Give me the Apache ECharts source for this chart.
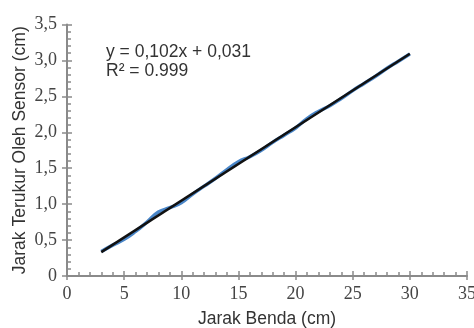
<!DOCTYPE html>
<html><head><meta charset="utf-8">
<script src="https://cdn.jsdelivr.net/npm/echarts@6/dist/echarts.min.js"></script>
<style>html,body{margin:0;padding:0;background:#fff}#c{width:474px;height:328px}</style>
</head><body><div id="c"></div>
<script>
const jarakBenda = [3,4,5,6,7,8,9,10,11,12,13,14,15,16,17,18,19,20,21,22,23,24,25,26,27,28,29,30];
const jarakTerukur = [0.34,0.43,0.51,0.62,0.75,0.89,0.95,1.02,1.14,1.25,1.36,1.48,1.59,1.66,1.75,1.86,1.96,2.06,2.19,2.29,2.37,2.47,2.58,2.68,2.78,2.89,2.99,3.09];
const equationText = ['y = 0,102x + 0,031', 'R² = 0.999'];
const xName = 'Jarak Benda (cm)';
const yName = 'Jarak Terukur Oleh Sensor (cm)';

const n = jarakBenda.length;
let sx=0, sy=0, sxx=0, sxy=0;
for (let i=0;i<n;i++){sx+=jarakBenda[i];sy+=jarakTerukur[i];sxx+=jarakBenda[i]*jarakBenda[i];sxy+=jarakBenda[i]*jarakTerukur[i];}
const slope = (n*sxy - sx*sy)/(n*sxx - sx*sx);
const icpt = (sy - slope*sx)/n;
const xs = [jarakBenda[0], jarakBenda[n-1]];
const trend = xs.map(x => [x, slope*x + icpt]);
const dataPts = jarakBenda.map((x,i)=>[x, jarakTerukur[i]]);

const axisColor = '#8a8a8a';
const labelStyle = {color:'#444', fontFamily:'Liberation Serif', fontSize:18};
const chart = echarts.init(document.getElementById('c'));
chart.setOption({
  animation:false,
  grid:{left:67, right:7, top:24.5, bottom:52, containLabel:false, outerBoundsMode:'none'},
  xAxis:[{
    type:'value', min:0, max:35, interval:5,
    axisLine:{show:true, onZero:false, lineStyle:{color:axisColor, width:2}},
    axisTick:{show:true, inside:true, length:5, lineStyle:{color:axisColor, width:1.5}},
    minorTick:{show:true, splitNumber:5, length:4, lineStyle:{color:axisColor, width:1.5}},
    splitLine:{show:false},
    axisLabel:Object.assign({margin:9}, labelStyle),
    name:xName, nameLocation:'middle', nameGap:34,
    nameTextStyle:{color:'#333', fontFamily:'Liberation Sans', fontSize:17.5}
  },{
    type:'value', min:0, max:35, interval:5, position:'bottom',
    axisLine:{show:false, onZero:false}, axisLabel:{show:false}, splitLine:{show:false},
    axisTick:{show:true, inside:false, length:4, lineStyle:{color:axisColor, width:1.5}}
  }],
  yAxis:[{
    type:'value', min:0, max:3.5, interval:0.5,
    axisLine:{show:true, onZero:false, lineStyle:{color:axisColor, width:2}},
    axisTick:{show:true, inside:true, length:5, lineStyle:{color:axisColor, width:1.5}},
    minorTick:{show:true, splitNumber:5, length:4, lineStyle:{color:axisColor, width:1.5}},
    splitLine:{show:false},
    axisLabel:Object.assign({margin:10, formatter:v => v===0 ? '0' : v.toFixed(1).replace('.', ',')}, labelStyle),
    name:yName, nameLocation:'middle', nameGap:38, nameRotate:90, nameMoveOverlap:false,
    nameTextStyle:{color:'#333', fontFamily:'Liberation Sans', fontSize:17.5}
  },{
    type:'value', min:0, max:3.5, interval:0.5, position:'left',
    axisLine:{show:false, onZero:false}, axisLabel:{show:false}, splitLine:{show:false},
    axisTick:{show:true, inside:false, length:5, lineStyle:{color:axisColor, width:1.5}}
  }],
  series:[{
    type:'line', data:dataPts, smooth:0.5, showSymbol:false,
    lineStyle:{color:'#4a86c8', width:3.5}
  },{
    type:'line', data:trend, showSymbol:false,
    lineStyle:{color:'#111', width:2.5}
  }],
  graphic:[{
    type:'text', left:106, top:43,
    style:{text:equationText[0], font:'17.5px "Liberation Sans"', fill:'#333'}
  },{
    type:'text', left:106, top:62,
    style:{text:equationText[1], font:'17.5px "Liberation Sans"', fill:'#333'}
  }]
});
</script></body></html>
